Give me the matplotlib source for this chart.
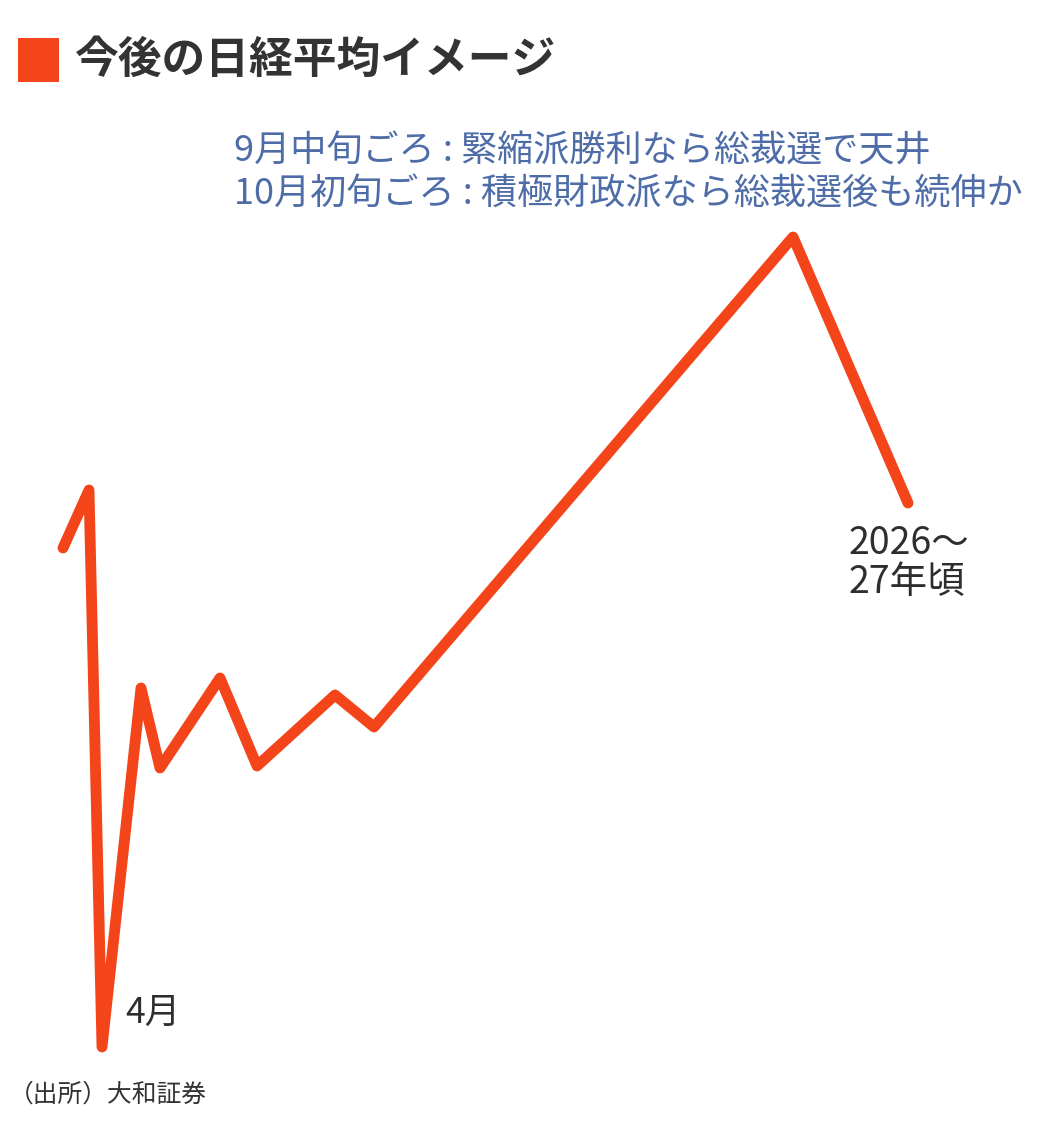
import matplotlib
matplotlib.use("Agg")
import matplotlib.pyplot as plt
from matplotlib.patches import Rectangle

plt.rcParams['font.family'] = ['Noto Sans CJK JP', 'DejaVu Sans']

# Image of the path (arbitrary units: period position, index level)
period = [63, 89, 102, 141, 160, 220, 257, 335, 374, 793, 908]
level = [583, 641, 84, 443, 363, 453, 365, 436, 404, 894, 628]

title = "今後の日経平均イメージ"
note_lines = ["9月中旬ごろ : 緊縮派勝利なら総裁選で天井",
              "10月初旬ごろ : 積極財政派なら総裁選後も続伸か"]
label_low = "4月"
label_end = "2026〜\n27年頃"
source = "（出所）大和証券"

W, H = 1040, 1131
fig = plt.figure(figsize=(W / 100, H / 100), dpi=100)
ax = fig.add_axes([0, 0, 1, 1])
ax.set_xlim(0, W)
ax.set_ylim(0, H)
ax.axis("off")

line_color = "#F4441A"
ax.plot(period, level, color=line_color, lw=7.8, solid_joinstyle="round",
        solid_capstyle="round")

# Title
ax.add_patch(Rectangle((18, H - 82), 41, 44, color="#F4441A", lw=0))
ax.text(75, H - 60, title, fontsize=31.5, fontweight="bold", color="#333333",
        va="center", ha="left")

# Annotation
blue = "#4E6DA8"
ax.text(234, H - 152, note_lines[0], fontsize=26, color=blue,
        va="center", ha="left")
ax.text(234, H - 195, note_lines[1], fontsize=26, color=blue,
        va="center", ha="left")

ax.text(125, H - 1013, label_low, fontsize=25.5, color="#2E2E2E",
        va="center", ha="left")
ax.text(849, H - 563, label_end, fontsize=27, color="#2E2E2E",
        va="center", ha="left", linespacing=1.0)

ax.text(9, H - 1095, source, fontsize=17.8, color="#333333",
        va="center", ha="left")

fig.savefig("out.png", dpi=100, facecolor="white")
